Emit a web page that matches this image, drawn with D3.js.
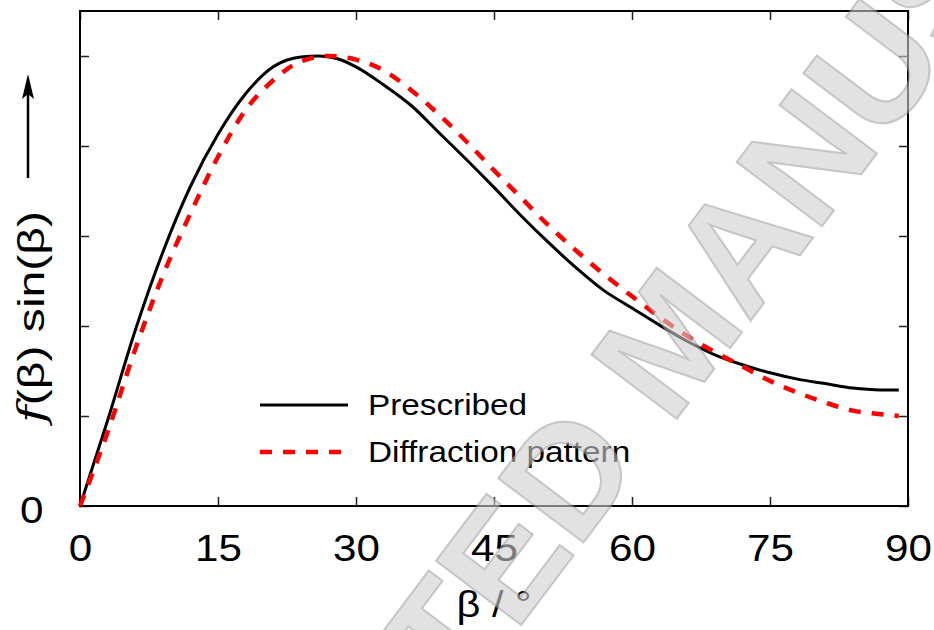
<!DOCTYPE html>
<html>
<head>
<meta charset="utf-8">
<script src="https://cdn.jsdelivr.net/npm/d3@7"></script>
<style>
  body { margin: 0; background: #fff; }
  text { font-family: "Liberation Sans", Arial, sans-serif; }
</style>
</head>
<body>
<svg id="chart" width="934" height="630"></svg>
<script>
// data (beta in degrees, value in axis units)
const betaPrescribed = [0, 3, 6, 9, 12, 15, 18, 21, 24, 26, 28, 30, 33, 36, 39, 42, 45, 48, 51, 54, 57, 60, 63, 66, 69, 72, 75, 78, 81, 84, 87, 89];
const prescribed = [0, 0.95, 1.95, 2.82, 3.55, 4.13, 4.58, 4.88, 4.99, 5.0, 4.97, 4.88, 4.68, 4.45, 4.15, 3.85, 3.54, 3.22, 2.92, 2.64, 2.39, 2.2, 2.01, 1.83, 1.68, 1.57, 1.48, 1.41, 1.36, 1.31, 1.29, 1.29];
const betaDiffraction = [0, 3, 6, 9, 12, 15, 18, 21, 24, 27, 30, 33, 36, 39, 42, 45, 48, 51, 54, 57, 60, 63, 66, 69, 72, 75, 78, 81, 84, 87, 89];
const diffraction = [0, 0.82, 1.74, 2.56, 3.25, 3.88, 4.4, 4.73, 4.94, 5.0, 4.96, 4.84, 4.62, 4.35, 4.05, 3.73, 3.42, 3.11, 2.83, 2.57, 2.33, 2.1, 1.89, 1.71, 1.55, 1.39, 1.26, 1.15, 1.06, 1.02, 1.0];
const xTicks = [0, 15, 30, 45, 60, 75, 90];
const yTicks = [0, 1, 2, 3, 4, 5];
const legendLabels = ['Prescribed', 'Diffraction pattern'];

const width = 934, height = 630;
const margin = { top: 11, right: 26, bottom: 124, left: 80 };
const svg = d3.select('#chart');

const x = d3.scaleLinear([0, 90], [margin.left, width - margin.right]);
const y = d3.scaleLinear([0, 5.5], [height - margin.bottom, margin.top]);

const tickStyle = g => g.call(g => g.select('.domain').remove())
  .call(g => g.selectAll('.tick line').attr('stroke', '#222').attr('stroke-width', 1.5));

// bottom axis with labels (the original lettering is a bit wide)
svg.append('g')
  .attr('transform', `translate(0,${y(0)})`)
  .call(d3.axisBottom(x).tickValues(xTicks).tickSize(-9).tickPadding(29))
  .call(tickStyle)
  .call(g => g.selectAll('.tick text').attr('font-size', 37).attr('fill', '#000')
    .attr('transform', 'scale(1.14,1)')
    .attr('font-family', '"Liberation Sans", Arial, sans-serif'));

// top axis, ticks only
svg.append('g')
  .attr('transform', `translate(0,${y(5.5)})`)
  .call(d3.axisTop(x).tickValues(xTicks).tickSize(-9).tickFormat(''))
  .call(tickStyle);

// left axis, only the zero is labelled
svg.append('g')
  .attr('transform', `translate(${x(0)},0)`)
  .call(d3.axisLeft(y).tickValues(yTicks).tickSize(-9).tickPadding(32)
    .tickFormat(d => d === 0 ? '0' : ''))
  .call(tickStyle)
  .call(g => g.selectAll('.tick text').attr('font-size', 37).attr('fill', '#000')
    .attr('transform', 'scale(1.14,1)')
    .attr('dy', '0.45em').attr('font-family', '"Liberation Sans", Arial, sans-serif'));

// right axis, ticks only
svg.append('g')
  .attr('transform', `translate(${x(90)},0)`)
  .call(d3.axisRight(y).tickValues(yTicks).tickSize(-9).tickFormat(''))
  .call(tickStyle);

// frame
svg.append('rect')
  .attr('x', x(0)).attr('y', y(5.5))
  .attr('width', x(90) - x(0)).attr('height', y(0) - y(5.5))
  .attr('fill', 'none').attr('stroke', '#000').attr('stroke-width', 2);

const line = d3.line()
  .curve(d3.curveMonotoneX)
  .x(d => x(d[0]))
  .y(d => y(d[1]));

svg.append('path')
  .attr('d', line(betaPrescribed.map((b, i) => [b, prescribed[i]])))
  .attr('fill', 'none').attr('stroke', '#000').attr('stroke-width', 3);

svg.append('path')
  .attr('d', line(betaDiffraction.map((b, i) => [b, diffraction[i]])))
  .attr('fill', 'none').attr('stroke', '#ff0000').attr('stroke-width', 4.5)
  .attr('stroke-dasharray', '12,11');

// legend
const legend = svg.append('g').attr('class', 'legend');
const legendStyle = [
  { stroke: '#000', width: 3, dash: null, x2: 348 },
  { stroke: '#ff0000', width: 4.5, dash: '12,11', x2: 342 }
];
legendLabels.forEach((label, i) => {
  const ly = 405 + i * 47;
  legend.append('line')
    .attr('x1', 260).attr('x2', legendStyle[i].x2)
    .attr('y1', ly).attr('y2', ly)
    .attr('stroke', legendStyle[i].stroke)
    .attr('stroke-width', legendStyle[i].width)
    .attr('stroke-dasharray', legendStyle[i].dash);
  legend.append('text')
    .attr('transform', `translate(368,${ly + 10}) scale(1.11,1)`)
    .attr('font-size', 30)
    .text(label);
});

// axis titles
svg.append('text')
  .attr('transform', `translate(${(x(0) + x(90)) / 2},617) scale(1.12,1)`)
  .attr('text-anchor', 'middle')
  .attr('font-size', 37)
  .text('β / °');

const yTitle = svg.append('text')
  .attr('transform', 'translate(44,317) rotate(-90) scale(1.3,1)')
  .attr('text-anchor', 'middle')
  .attr('font-size', 37);
yTitle.append('tspan')
  .attr('font-family', '"DejaVu Serif", serif')
  .attr('font-style', 'italic')
  .text('f');
yTitle.append('tspan').text('(β) sin(β)');

// arrow next to the y title
svg.append('line')
  .attr('x1', 28).attr('x2', 28).attr('y1', 178).attr('y2', 90)
  .attr('stroke', '#000').attr('stroke-width', 2.5);
svg.append('path')
  .attr('d', 'M28,74 L22,99 L28,94 L34,99 Z')
  .attr('fill', '#000');

// watermark
svg.append('text')
  .attr('transform', 'translate(712,372) rotate(-53)')
  .attr('text-anchor', 'middle')
  .attr('font-size', 155)
  .attr('font-weight', 'bold')
  .attr('fill', '#cfcfcf')
  .attr('stroke', '#a0a0a0')
  .attr('stroke-width', 2)
  .attr('opacity', 0.6)
  .text('ACCEPTED MANUSCRIPT');
</script>
</body>
</html>
